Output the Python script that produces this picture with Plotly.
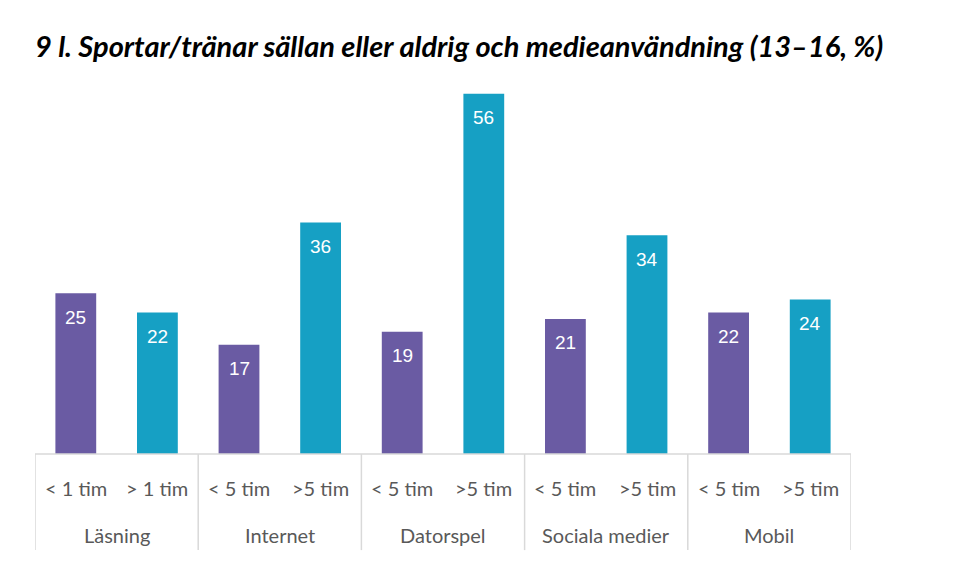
import plotly.graph_objects as go

groups = ["Läsning", "Internet", "Datorspel", "Sociala medier", "Mobil"]
ticks = ["< 1 tim", "> 1 tim", "< 5 tim", ">5 tim", "< 5 tim", ">5 tim",
         "< 5 tim", ">5 tim", "< 5 tim", ">5 tim"]
values = [25, 22, 17, 36, 19, 56, 21, 34, 22, 24]
title = "9 l. Sportar/tränar sällan eller aldrig och medieanvändning (13–16, %)"

purple = "#6A5BA3"
teal = "#16A0C4"
colors = [purple if i % 2 == 0 else teal for i in range(len(values))]
xs = list(range(len(values)))

fig = go.Figure()
fig.add_trace(go.Bar(x=xs, y=values, marker=dict(color=colors, line=dict(width=0)),
                     width=0.5, hoverinfo="skip"))

annotations = []
for x, v in zip(xs, values):
    annotations.append(dict(x=x, y=v, xref="x", yref="y", text=str(v), showarrow=False,
                            yanchor="middle", yshift=-24,
                            font=dict(family="Liberation Sans, Arial", size=19, color="white")))
for x, t in zip(xs, ticks):
    annotations.append(dict(x=x, y=-0.088, xref="x", yref="paper", text=t, showarrow=False,
                            yanchor="middle",
                            font=dict(family="Lato, Open Sans", size=20, color="#595959")))
for i, g in enumerate(groups):
    annotations.append(dict(x=2 * i + 0.5, y=-0.21, xref="x", yref="paper", text=g, showarrow=False,
                            yanchor="middle",
                            font=dict(family="Lato, Open Sans", size=20, color="#595959")))

shapes = [dict(type="line", xref="x", yref="paper", x0=-0.5, x1=9.5, y0=0, y1=0,
               line=dict(color="#D9D9D9", width=1.5))]
for b in [-0.5, 1.5, 3.5, 5.5, 7.5, 9.5]:
    shapes.append(dict(type="line", xref="x", yref="paper", x0=b, x1=b, y0=0, y1=-0.249,
                       line=dict(color="#D9D9D9", width=1.5)))

fig.update_layout(
    width=953, height=563,
    margin=dict(l=27, r=110, t=60, b=117),
    paper_bgcolor="white", plot_bgcolor="white",
    title=dict(text="<b><i>" + title + "</i></b>", x=27 / 953, xanchor="left",
               xref="container", yref="container", y=1 - 39 / 563, yanchor="middle",
               font=dict(family="Lato, Open Sans", size=29, color="black")),
    xaxis=dict(range=[-0.5, 9.5], showticklabels=False, showgrid=False, zeroline=False,
               showline=False, fixedrange=True),
    yaxis=dict(range=[0, 60], visible=False, fixedrange=True),
    showlegend=False,
    annotations=annotations,
    shapes=shapes,
)
fig.write_html("out.html")
